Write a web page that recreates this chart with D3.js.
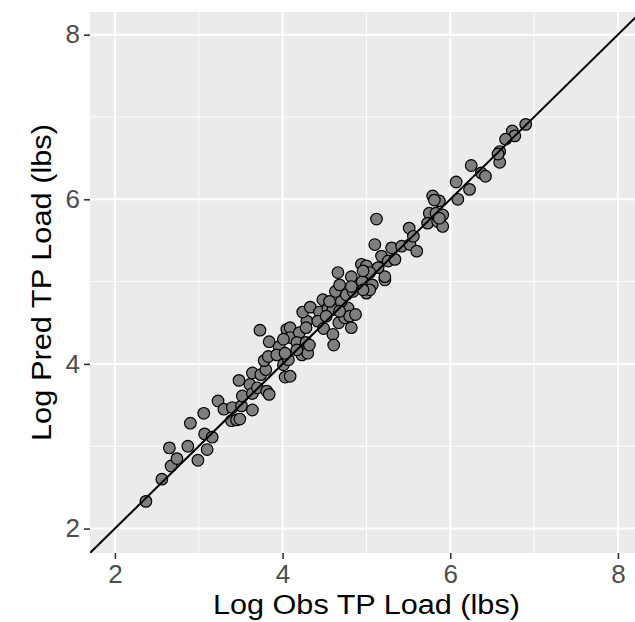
<!DOCTYPE html>
<html>
<head>
<meta charset="utf-8">
<script src="https://cdn.jsdelivr.net/npm/d3@7"></script>
<style>
    body { margin: 0; background: #fff; }
    svg { display: block; font-family: "Liberation Sans", Arial, sans-serif; }
</style>
</head>
<body>
<div id="chart"></div>
<script>
// observed vs predicted log TP load
var obsLoad = [2.37, 2.56, 2.67, 2.74, 2.65, 2.87, 2.99, 3.10, 3.07, 3.16,
    2.90, 3.06, 3.23, 3.30, 3.39, 3.45, 3.49, 3.40, 3.51, 3.64,
    3.52, 3.48, 3.61, 3.64, 3.64, 3.74, 3.70, 3.81, 3.84, 3.80,
    3.78, 3.73, 3.84, 3.96, 3.83, 4.03, 4.09, 4.01, 4.07, 4.05,
    4.09, 4.09, 4.01, 4.20, 4.17, 4.28, 4.23, 4.30, 4.32, 4.29,
    4.24, 4.33, 4.44, 4.42, 4.48, 4.54, 4.60, 4.49, 4.60, 4.61,
    4.67, 4.78, 4.74, 4.82, 4.80, 4.87, 4.70, 4.76, 4.63, 4.68,
    4.90, 4.95, 5.00, 5.07, 5.04, 5.22, 4.84, 3.93, 4.03, 4.28,
    4.17, 4.56, 4.68, 5.10, 5.30, 5.42, 5.52, 5.60, 5.18, 5.26,
    5.34, 5.22, 5.14, 4.94, 5.00, 5.04, 4.66, 4.82, 4.82, 4.96,
    4.52, 5.12, 5.51, 5.56, 5.79, 5.87, 6.09, 6.23, 5.75, 5.83,
    5.91, 5.73, 5.85, 5.91, 6.90, 6.74, 6.77, 6.66, 6.59, 6.59,
    6.25, 6.37, 6.42, 6.07, 6.57, 5.81, 5.87, 4.96];
var predLoad = [2.33, 2.60, 2.76, 2.85, 2.98, 3.00, 2.83, 2.96, 3.15, 3.11,
    3.28, 3.40, 3.55, 3.45, 3.31, 3.32, 3.33, 3.47, 3.49, 3.44,
    3.61, 3.80, 3.75, 3.64, 3.89, 3.87, 3.71, 3.67, 3.63, 3.93,
    4.04, 4.41, 4.27, 4.21, 4.09, 3.84, 3.85, 3.99, 4.05, 4.42,
    4.44, 4.32, 4.30, 4.38, 4.26, 4.26, 4.11, 4.13, 4.23, 4.52,
    4.63, 4.69, 4.63, 4.52, 4.78, 4.67, 4.66, 4.43, 4.36, 4.23,
    4.50, 4.68, 4.56, 4.44, 4.58, 4.60, 4.76, 4.84, 4.88, 4.96,
    4.96, 5.00, 4.86, 4.96, 4.90, 5.02, 4.88, 4.11, 4.13, 4.44,
    4.17, 4.76, 4.64, 5.45, 5.41, 5.43, 5.45, 5.37, 5.31, 5.25,
    5.27, 5.06, 5.17, 5.21, 5.19, 5.11, 5.11, 5.06, 4.94, 4.90,
    4.58, 5.76, 5.65, 5.55, 6.04, 5.98, 6.00, 6.12, 5.83, 5.83,
    5.81, 5.71, 5.73, 5.67, 6.91, 6.83, 6.77, 6.73, 6.58, 6.45,
    6.41, 6.32, 6.28, 6.21, 6.55, 5.99, 5.77, 5.13];
var majorTicks = [2, 4, 6, 8];
var minorTicks = [3, 5, 7];
var axisRange = [1.703, 8.275];

var data = obsLoad.map(function (d, i) {
    return {obs: d, pred: predLoad[i]};
});

var width = 635, height = 622;
var margin = {top: 12, right: -6, bottom: 69, left: 90};
var pw = width - margin.left - margin.right;
var ph = height - margin.top - margin.bottom;

var svg = d3.select("#chart").append("svg")
    .attr("width", width)
    .attr("height", height);

var x = d3.scaleLinear().domain(axisRange).range([0, pw]);
var y = d3.scaleLinear().domain(axisRange).range([ph, 0]);

svg.append("defs").append("clipPath")
    .attr("id", "panelClip")
    .append("rect")
    .attr("width", pw)
    .attr("height", ph);

var g = svg.append("g")
    .attr("transform", "translate(" + margin.left + "," + margin.top + ")");

//面板背景
g.append("rect")
    .attr("width", pw)
    .attr("height", ph)
    .attr("fill", "#EBEBEB");

//网格线
var grid = g.append("g").attr("stroke", "#fff");
grid.selectAll("line.vminor").data(minorTicks).enter().append("line")
    .attr("x1", function (d) { return x(d); })
    .attr("x2", function (d) { return x(d); })
    .attr("y1", 0).attr("y2", ph)
    .attr("stroke-width", 1);
grid.selectAll("line.hminor").data(minorTicks).enter().append("line")
    .attr("y1", function (d) { return y(d); })
    .attr("y2", function (d) { return y(d); })
    .attr("x1", 0).attr("x2", pw)
    .attr("stroke-width", 1);
grid.selectAll("line.vmajor").data(majorTicks).enter().append("line")
    .attr("x1", function (d) { return x(d); })
    .attr("x2", function (d) { return x(d); })
    .attr("y1", 0).attr("y2", ph)
    .attr("stroke-width", 2);
grid.selectAll("line.hmajor").data(majorTicks).enter().append("line")
    .attr("y1", function (d) { return y(d); })
    .attr("y2", function (d) { return y(d); })
    .attr("x1", 0).attr("x2", pw)
    .attr("stroke-width", 2);

var plot = g.append("g").attr("clip-path", "url(#panelClip)");

plot.selectAll("circle")
    .data(data)
    .enter()
    .append("circle")
    .attr("cx", function (d) { return x(d.obs); })
    .attr("cy", function (d) { return y(d.pred); })
    .attr("r", 5.8)
    .attr("fill", "#7F7F7F")
    .attr("stroke", "#000")
    .attr("stroke-width", 1.2);

//1:1 线
plot.append("line")
    .attr("x1", x(axisRange[0]))
    .attr("y1", y(axisRange[0]))
    .attr("x2", x(axisRange[1]))
    .attr("y2", y(axisRange[1]))
    .attr("stroke", "#000")
    .attr("stroke-width", 2);

var xAxis = d3.axisBottom(x).tickValues(majorTicks).tickFormat(d3.format("d")).tickSize(6).tickPadding(6);
var yAxis = d3.axisLeft(y).tickValues(majorTicks).tickFormat(d3.format("d")).tickSize(6).tickPadding(4);

var gx = g.append("g")
    .attr("transform", "translate(0," + ph + ")")
    .call(xAxis);
var gy = g.append("g").call(yAxis);

[gx, gy].forEach(function (a) {
    a.select(".domain").remove();
    a.selectAll(".tick line").attr("stroke", "#333").attr("stroke-width", 1.6);
    a.selectAll(".tick text")
        .attr("fill", "#4D4D4D")
        .attr("font-size", 26)
        .attr("font-family", "Liberation Sans, Arial, sans-serif");
});

svg.append("text")
    .attr("x", margin.left + x(5))
    .attr("y", 614)
    .attr("text-anchor", "middle")
    .attr("font-size", 27)
    .attr("textLength", 307)
    .attr("lengthAdjust", "spacingAndGlyphs")
    .attr("fill", "#000")
    .text("Log Obs TP Load (lbs)");

svg.append("text")
    .attr("transform", "translate(51," + (margin.top + ph / 2) + ") rotate(-90)")
    .attr("text-anchor", "middle")
    .attr("font-size", 27)
    .attr("textLength", 317)
    .attr("lengthAdjust", "spacingAndGlyphs")
    .attr("fill", "#000")
    .text("Log Pred TP Load (lbs)");
</script>
</body>
</html>
